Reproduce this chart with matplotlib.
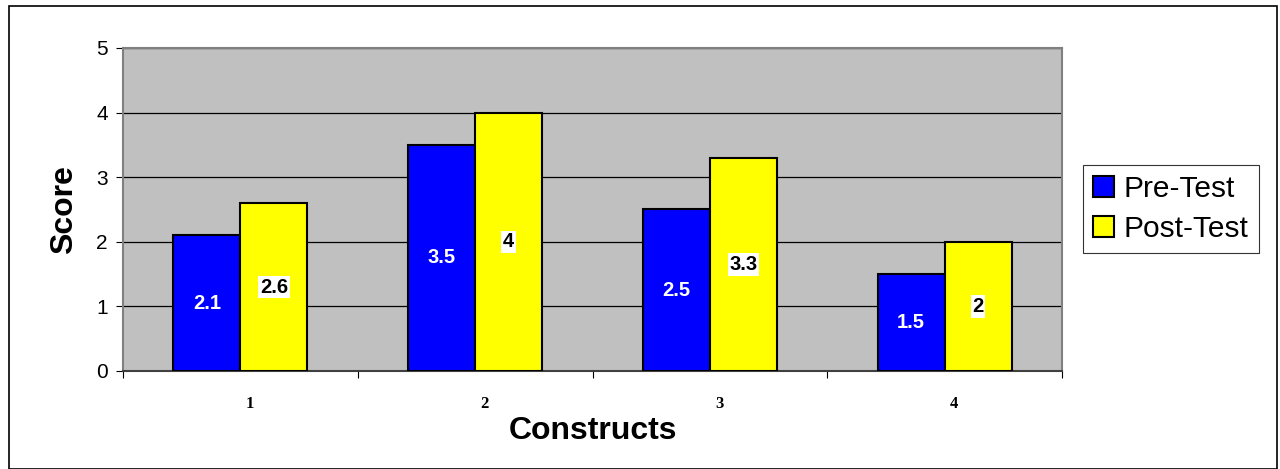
import matplotlib.pyplot as plt
import numpy as np
from matplotlib.patches import Rectangle

plt.rcParams['font.family'] = ['Liberation Sans', 'DejaVu Sans']

categories = ["1", "2", "3", "4"]
pre_test = [2.1, 3.5, 2.5, 1.5]
post_test = [2.6, 4, 3.3, 2]

fig = plt.figure(figsize=(12.8, 4.69), dpi=100)
ax = fig.add_axes([123/1280, 1 - 371/469, 939/1280, 323/469])

# outer chart border
fig.patches.append(Rectangle((9/1280, 0), 1268/1280, 1 - 6/469, transform=fig.transFigure,
                             fill=False, edgecolor="black", linewidth=1.2))

x = np.arange(len(categories))
w = 0.285
b1 = ax.bar(x - w/2, pre_test, w, color="#0000FF", edgecolor="black", linewidth=1.5,
            label="Pre-Test", zorder=3)
b2 = ax.bar(x + w/2, post_test, w, color="#FFFF00", edgecolor="black", linewidth=1.5,
            label="Post-Test", zorder=3)

for r, v in zip(b1, pre_test):
    ax.text(r.get_x() + r.get_width()/2, v/2, f"{v:g}", ha="center", va="center",
            color="white", fontsize=14.5, fontweight="bold", zorder=4)
for r, v in zip(b2, post_test):
    ax.text(r.get_x() + r.get_width()/2, v/2, f"{v:g}", ha="center", va="center",
            color="black", fontsize=14.5, fontweight="bold", zorder=4,
            bbox=dict(facecolor="white", edgecolor="none", pad=1.2))

ax.set_facecolor("#C0C0C0")
ax.set_xlim(-0.5, 3.5)
ax.set_ylim(0, 5)
ax.set_yticks(range(6))
ax.yaxis.grid(True, color="black", linewidth=0.9)
ax.set_axisbelow(True)

ax.set_xticks(np.arange(-0.5, 4, 1))
ax.set_xticklabels([])
ax.set_xticks(x + 0.04, minor=True)
ax.set_xticklabels(categories, minor=True, fontfamily="Liberation Serif", fontweight="bold",
                   fontsize=12)
ax.tick_params(axis="x", which="minor", length=0, pad=18)
ax.tick_params(axis="x", which="major", length=5, direction="out")
ax.tick_params(axis="y", length=5, labelsize=15, pad=6)

for s in ["top", "right", "left"]:
    ax.spines[s].set_color("#808080")
    ax.spines[s].set_linewidth(1.5)
ax.spines["bottom"].set_color("#404040")
ax.spines["bottom"].set_linewidth(1.5)

ax.set_ylabel("Score", fontsize=23, fontweight="bold", labelpad=12)
ax.set_xlabel("Constructs", fontsize=23, fontweight="bold", labelpad=3)

leg = fig.legend(loc="center left", bbox_to_anchor=(1083/1280, 1 - 209/469), fontsize=21.5,
                 frameon=True, fancybox=False, edgecolor="black", handlelength=0.7,
                 handleheight=0.7, handletextpad=0.3, borderpad=0.35, labelspacing=0.4,
                 borderaxespad=0)
leg.get_frame().set_linewidth(0.8)

fig.savefig("out.png", dpi=100)
